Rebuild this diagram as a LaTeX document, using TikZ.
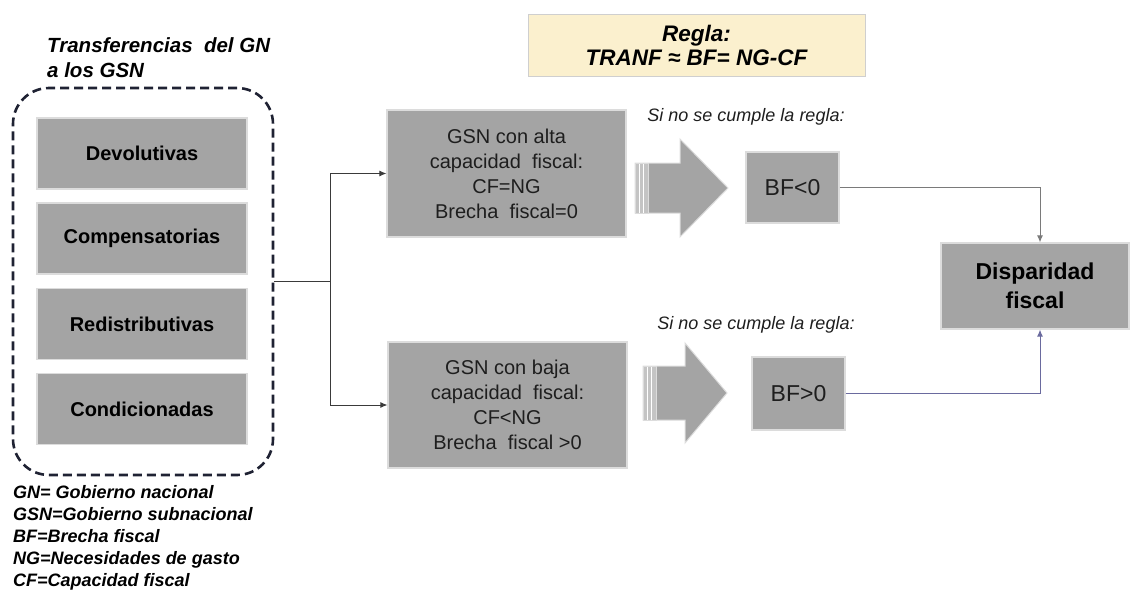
\documentclass[tikz,border=0pt]{standalone}
\usepackage{fontspec}
\setmainfont{Liberation Sans}
\usetikzlibrary{arrows.meta}
\definecolor{boxgray}{HTML}{A4A4A4}
\definecolor{boxedge}{HTML}{DCDCDC}
\definecolor{navy}{HTML}{1F2233}
\definecolor{reglafill}{HTML}{FBF0CE}
\definecolor{reglaedge}{HTML}{CFCFCF}
\definecolor{textdark}{HTML}{1E1E1E}
\definecolor{connleft}{HTML}{3A3A3A}
\definecolor{connup}{HTML}{7A7A7A}
\definecolor{connlow}{HTML}{6A6A9E}
\definecolor{tailgray}{HTML}{C4C4C4}
\begin{document}
\begin{tikzpicture}[x=1pt,y=-1pt,
  graybox/.style={draw=boxedge, fill=boxgray, line width=1.2pt, inner sep=0pt, align=center, text=textdark},
  leftbox/.style={graybox, minimum width=210pt, minimum height=71pt, font=\bfseries\fontsize{20}{24}\selectfont, text=black},
  midbox/.style={graybox, minimum width=239pt, minimum height=126pt, font=\fontsize{20}{25}\selectfont},
  bfbox/.style={graybox, minimum width=93pt, minimum height=72pt, font=\fontsize{23}{27}\selectfont},
  bigarrow/.style={draw=boxedge, fill=boxgray, line width=1pt, line join=miter},
  conntip/.style={-{Latex[length=7pt,width=6pt]}},
  sino/.style={font=\itshape\fontsize{18}{22}\selectfont, text=textdark, inner sep=0pt}
]
\useasboundingbox (0,0) rectangle (1130,592);

% Title and legend
\node[font=\bfseries\itshape\fontsize{20.5}{25}\selectfont, align=left, anchor=west, inner sep=0pt] (title) at (47,58) {Transferencias\ \ del GN\\a los GSN};
\node[font=\bfseries\itshape\fontsize{18}{22}\selectfont, align=left, anchor=north west, inner sep=0pt] (legend) at (13,485)
 {GN= Gobierno nacional\\GSN=Gobierno subnacional\\BF=Brecha fiscal\\NG=Necesidades de gasto\\CF=Capacidad fiscal};

% Container
\node[draw=navy, line width=2.6pt, dash pattern=on 9pt off 5pt, rounded corners=36pt,
      minimum width=260pt, minimum height=387pt, inner sep=0pt] (cont) at (143,281.5) {};
\node[leftbox] (dev) at (142,153.5) {Devolutivas};
\node[leftbox] (comp) at (142,238.5) {Compensatorias};
\node[leftbox] (redis) at (142,324) {Redistributivas};
\node[leftbox] (cond) at (142,409) {Condicionadas};

% Rule
\node[draw=reglaedge, fill=reglafill, line width=1pt, minimum width=337pt, minimum height=62pt, align=center,
      font=\bfseries\itshape\fontsize{22.5}{24}\selectfont] (regla) at (696.5,45) {Regla:\\TRANF ≈ BF= NG-CF};

% Middle boxes
\node[midbox, minimum height=127pt] (alta) at (506.5,173.5) {GSN con alta\\capacidad\ \ fiscal:\\CF=NG\\Brecha\ \ fiscal=0};
\node[midbox] (baja) at (507.5,405) {GSN con baja\\capacidad\ \ fiscal:\\CF<NG\\Brecha\ \ fiscal >0};

% Captions
\node[sino] (sino1) at (746,117) {Si no se cumple la regla:};
\node[sino] (sino2) at (756,325) {Si no se cumple la regla:};

% Big arrows
\path[bigarrow] (635,163) -- (680,163) -- (680,139) -- (728,188) -- (680,237) -- (680,213) -- (635,213) -- cycle;
\fill[tailgray] (635.5,163.5) rectangle (648,212.5);
\draw[white, line width=0.8pt] (639,163.5) -- (639,212.5) (643.5,163.5) -- (643.5,212.5);
\draw[boxedge, line width=1pt] (635,163) rectangle (648,213);
\path[bigarrow] (643,366) -- (685,366) -- (685,343) -- (727,393) -- (685,443) -- (685,420) -- (643,420) -- cycle;
\fill[tailgray] (643.5,366.5) rectangle (656,419.5);
\draw[white, line width=0.8pt] (647,366.5) -- (647,419.5) (651.5,366.5) -- (651.5,419.5);
\draw[boxedge, line width=1pt] (643,366) rectangle (656,420);

% BF boxes
\node[bfbox, minimum height=71pt] (bfneg) at (792.5,187.5) {BF<0};
\node[bfbox, minimum height=73pt] (bfpos) at (798.5,393.5) {BF>0};

% Disparidad
\node[graybox, minimum width=188pt, minimum height=86pt, font=\bfseries\fontsize{23}{29}\selectfont, text=black] (disp) at (1035,286) {Disparidad\\fiscal};

% Connectors
\coordinate (split) at (330,281.5);
\draw[connleft, line width=0.9pt] (cont.east) -- (split);
\draw[connleft, line width=0.9pt, conntip] (split) |- (alta.west);
\draw[connleft, line width=0.9pt, conntip] (split) |- (baja.west);
\draw[connup, line width=1pt, conntip] (bfneg.east) -| ([xshift=5pt]disp.north);
\draw[connlow, line width=1pt, conntip] (bfpos.east) -| ([xshift=5pt]disp.south);
\end{tikzpicture}
\end{document}
